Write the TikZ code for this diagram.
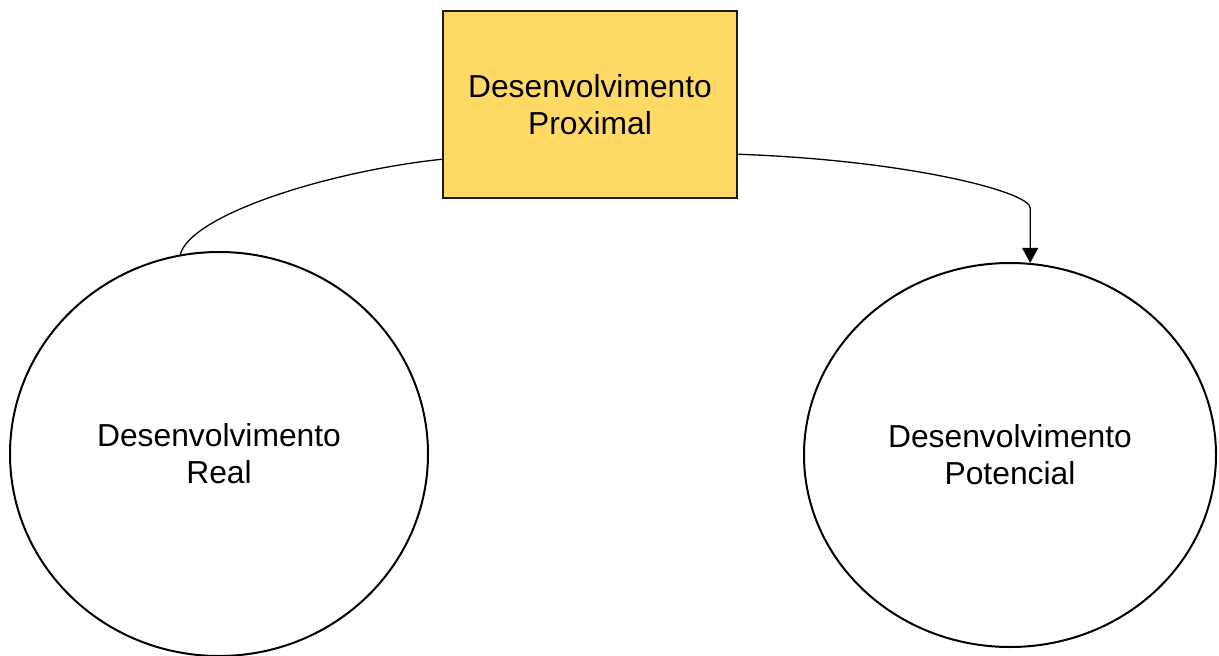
\documentclass[tikz,border=0pt]{standalone}
\usepackage{fontspec}
\setmainfont{Liberation Sans}
\usetikzlibrary{arrows.meta,shapes.geometric}
\definecolor{boxyellow}{HTML}{FFD966}
\begin{document}
\begin{tikzpicture}[x=1pt,y=-1pt,
  lbl/.style={font=\fontsize{31.8}{37}\selectfont, align=center, text=black},
  circ/.style={ellipse, draw=black, line width=2pt, inner sep=0pt, lbl},
  pbox/.style={rectangle, draw=black!90, fill=boxyellow, line width=2.5pt, inner sep=0pt, minimum width=294pt, minimum height=187pt, lbl},
  conn/.style={draw=black, line width=1.3pt}]
\useasboundingbox (0,0) rectangle (1219,656);
\node[pbox] (box) at (590,104.5) {Desenvolvimento\\Proximal};
\node[circ, minimum width=418pt, minimum height=404pt] (real) at (219,454) {Desenvolvimento\\Real};
\node[circ, minimum width=412pt, minimum height=384pt] (pot) at (1010,455) {Desenvolvimento\\Potencial};
\draw[conn] ([yshift=40pt]box.south west) .. controls +(-113,12) and +(11,-40) .. (real.101.4);
\draw[conn, -{Triangle[width=16pt,length=15pt]}] ([yshift=45pt]box.south east) .. controls +(170,6) and +(0,-16) .. ([yshift=55pt]pot.84) -- (pot.84);
\end{tikzpicture}
\end{document}
